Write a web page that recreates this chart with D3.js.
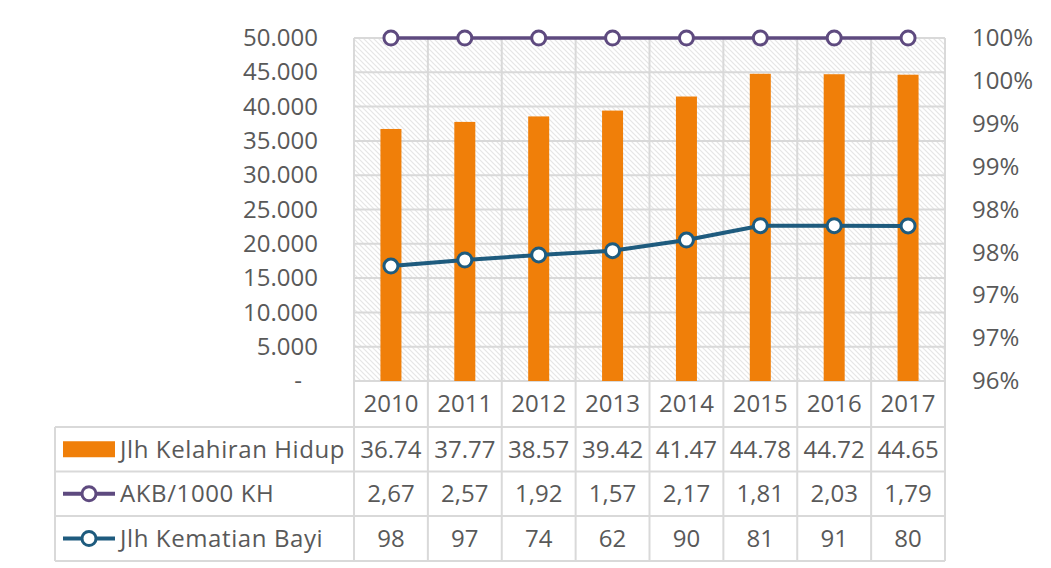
<!DOCTYPE html>
<html>
<head>
<meta charset="utf-8">
<script src="https://cdn.jsdelivr.net/npm/d3@7"></script>
<style>
  body { margin: 0; background: #fff; }
  svg text { font-family: "Open Sans", "Noto Sans", sans-serif; fill: #595959; }
</style>
</head>
<body>
<div id="chart"></div>
<script>
var width = 1051;
var height = 568;

// data
var years = ["2010", "2011", "2012", "2013", "2014", "2015", "2016", "2017"];
var kelahiran = [36740, 37770, 38570, 39420, 41470, 44780, 44720, 44650];
var kelahiranLabels = ["36.74", "37.77", "38.57", "39.42", "41.47", "44.78", "44.72", "44.65"];
var akb = [2.67, 2.57, 1.92, 1.57, 2.17, 1.81, 2.03, 1.79];
var akbLabels = ["2,67", "2,57", "1,92", "1,57", "2,17", "1,81", "2,03", "1,79"];
var kematianLine = [16760, 17640, 18370, 19000, 20550, 22640, 22640, 22600];
var kematianLabels = ["98", "97", "74", "62", "90", "81", "91", "80"];
var leftTicks = [0, 5000, 10000, 15000, 20000, 25000, 30000, 35000, 40000, 45000, 50000];
var rightTicks = [0.96, 0.965, 0.97, 0.975, 0.98, 0.985, 0.99, 0.995, 1.0];
var rightTickLabels = ["96%", "97%", "97%", "98%", "98%", "99%", "99%", "100%", "100%"];
var seriesNames = ["Jlh Kelahiran Hidup", "AKB/1000 KH", "Jlh Kematian Bayi"];

var orange = "#f07f09";
var purple = "#5e4a7f";
var blue = "#1e5b7e";
var grid = "#d9d9d9";

var plot = { left: 354, right: 945, top: 38, bottom: 381 };
var tableLeft = 55;
var rowEdges = [381, 427, 471.5, 516, 561];

var svg = d3.select("#chart").append("svg")
  .attr("width", width)
  .attr("height", height);

/* hatch pattern */
var pat = svg.append("defs").append("pattern")
  .attr("id", "hatch")
  .attr("patternUnits", "userSpaceOnUse")
  .attr("width", 5)
  .attr("height", 5);
pat.append("rect").attr("width", 5).attr("height", 5).attr("fill", "#fff");
pat.append("path")
  .attr("d", "M0,0L5,5M-1,4L1,6M4,-1L6,1")
  .attr("stroke", "#e6e6e6")
  .attr("stroke-width", 1.2);

/* scales */
var x = d3.scaleBand().domain(years).range([plot.left, plot.right]);
var y = d3.scaleLinear().domain([0, 50000]).range([plot.bottom, plot.top]);
var y2 = d3.scaleLinear().domain([0.96, 1.0]).range([plot.bottom, plot.top]).clamp(true);

svg.append("rect")
  .attr("x", plot.left).attr("y", plot.top)
  .attr("width", plot.right - plot.left).attr("height", plot.bottom - plot.top)
  .attr("fill", "url(#hatch)");

/* gridlines */
svg.append("g").selectAll("line")
  .data(leftTicks)
  .enter().append("line")
  .attr("x1", plot.left).attr("x2", plot.right)
  .attr("y1", d => y(d)).attr("y2", d => y(d))
  .attr("stroke", grid).attr("stroke-width", 2);

svg.append("g").selectAll("line")
  .data(years.concat(["end"]))
  .enter().append("line")
  .attr("x1", (d, i) => plot.left + i * x.bandwidth())
  .attr("x2", (d, i) => plot.left + i * x.bandwidth())
  .attr("y1", plot.top).attr("y2", rowEdges[4])
  .attr("stroke", grid).attr("stroke-width", 2);

/* table horizontal lines */
svg.append("g").selectAll("line")
  .data(rowEdges)
  .enter().append("line")
  .attr("x1", (d, i) => i === 0 ? plot.left : tableLeft)
  .attr("x2", plot.right)
  .attr("y1", d => d).attr("y2", d => d)
  .attr("stroke", grid).attr("stroke-width", 2);

svg.append("line")
  .attr("x1", tableLeft).attr("x2", tableLeft)
  .attr("y1", rowEdges[1]).attr("y2", rowEdges[4])
  .attr("stroke", grid).attr("stroke-width", 2);

/* bars */
var barW = 21;
svg.append("g").selectAll("rect")
  .data(kelahiran)
  .enter().append("rect")
  .attr("x", (d, i) => x(years[i]) + x.bandwidth() / 2 - barW / 2)
  .attr("y", d => y(d))
  .attr("width", barW)
  .attr("height", d => y(0) - y(d))
  .attr("fill", orange);

/* lines */
var cx = (d, i) => x(years[i]) + x.bandwidth() / 2;

var lineKem = d3.line().x(cx).y(d => y(d));
svg.append("path")
  .attr("d", lineKem(kematianLine))
  .attr("fill", "none").attr("stroke", blue).attr("stroke-width", 4);
svg.append("g").selectAll("circle")
  .data(kematianLine)
  .enter().append("circle")
  .attr("cx", cx).attr("cy", d => y(d)).attr("r", 7)
  .attr("fill", "#fff").attr("stroke", blue).attr("stroke-width", 3);

var lineAkb = d3.line().x(cx).y(d => y2(d));
svg.append("path")
  .attr("d", lineAkb(akb))
  .attr("fill", "none").attr("stroke", purple).attr("stroke-width", 3.5);
svg.append("g").selectAll("circle")
  .data(akb)
  .enter().append("circle")
  .attr("cx", cx).attr("cy", d => y2(d)).attr("r", 7)
  .attr("fill", "#fff").attr("stroke", purple).attr("stroke-width", 3);

/* axes */
var yAxis = d3.axisLeft(y)
  .tickValues(leftTicks)
  .tickSize(0)
  .tickPadding(36)
  .tickFormat(d => d === 0 ? "-" : d3.format(",")(d).replace(/,/g, "."));
var gy = svg.append("g")
  .attr("transform", `translate(${plot.left},0)`)
  .call(yAxis);
gy.select(".domain").remove();
gy.selectAll("text").style("font-size", "24px").attr("fill", "#595959");
gy.selectAll(".tick").filter(d => d === 0).select("text").attr("x", -52);

var y2Axis = d3.axisRight(y2)
  .tickValues(rightTicks)
  .tickSize(0)
  .tickPadding(27)
  .tickFormat((d, i) => rightTickLabels[i]);
var gy2 = svg.append("g")
  .attr("transform", `translate(${plot.right},0)`)
  .call(y2Axis);
gy2.select(".domain").remove();
gy2.selectAll("text").style("font-size", "24px").attr("fill", "#595959");

/* data table text */
var rowMid = (r) => (rowEdges[r] + rowEdges[r + 1]) / 2;
var tableRows = [years, kelahiranLabels, akbLabels, kematianLabels];
tableRows.forEach(function(row, r) {
  svg.append("g").selectAll("text")
    .data(row)
    .enter().append("text")
    .attr("x", (d, i) => x(years[i]) + x.bandwidth() / 2)
    .attr("y", rowMid(r))
    .attr("dy", "0.35em")
    .attr("text-anchor", "middle")
    .style("font-size", "24px")
    .text(d => d);
});

/* legend keys */
var keyX = 63, keyW = 52;
svg.append("rect")
  .attr("x", keyX).attr("y", rowMid(1) - 8)
  .attr("width", keyW).attr("height", 16)
  .attr("fill", orange);

[[purple, 2], [blue, 3]].forEach(function(k) {
  var ym = rowMid(k[1]);
  svg.append("line")
    .attr("x1", keyX).attr("x2", keyX + keyW)
    .attr("y1", ym).attr("y2", ym)
    .attr("stroke", k[0]).attr("stroke-width", 4);
  svg.append("circle")
    .attr("cx", keyX + keyW / 2).attr("cy", ym).attr("r", 7)
    .attr("fill", "#fff").attr("stroke", k[0]).attr("stroke-width", 3);
});

svg.append("g").selectAll("text")
  .data(seriesNames)
  .enter().append("text")
  .attr("x", 120)
  .attr("y", (d, i) => rowMid(i + 1))
  .attr("dy", "0.35em")
  .style("font-size", "24px")
  .style("letter-spacing", "0.6px")
  .text(d => d);
</script>
</body>
</html>
